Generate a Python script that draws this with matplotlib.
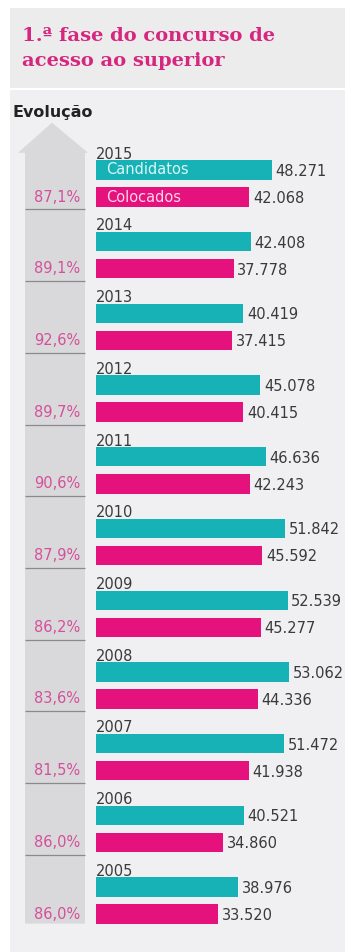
import matplotlib
matplotlib.use("Agg")
import matplotlib.pyplot as plt
import matplotlib.transforms as mtransforms
from matplotlib.patches import Rectangle, Polygon

# data
years = [2015, 2014, 2013, 2012, 2011, 2010, 2009, 2008, 2007, 2006, 2005]
candidatos = [48271, 42408, 40419, 45078, 46636, 51842, 52539, 53062, 51472, 40521, 38976]
colocados = [42068, 37778, 37415, 40415, 42243, 45592, 45277, 44336, 41938, 34860, 33520]
pct_labels = ["87,1%", "89,1%", "92,6%", "89,7%", "90,6%", "87,9%",
              "86,2%", "83,6%", "81,5%", "86,0%", "86,0%"]

TEAL = "#17b2b5"
PINK = "#e5117d"
PCT_PINK = "#d4509a"
TITLE_PINK = "#d6277f"
TXT = "#3a3a3a"

W, H = 345, 952
fig = plt.figure(figsize=(W / 100, H / 100), dpi=100, facecolor="white")

# panel backgrounds (title band + body), white rule in between
fig.patches.append(Rectangle((10 / W, 1 - 88 / H), 1, 80 / H, transform=fig.transFigure,
                             facecolor="#ececed", edgecolor="none", zorder=-2))
fig.patches.append(Rectangle((10 / W, 0), 1, 1 - 90 / H, transform=fig.transFigure,
                             facecolor="#f0f0f2", edgecolor="none", zorder=-2))

fig.text(22 / W, 1 - 36 / H, "1.ª fase do concurso de", color=TITLE_PINK,
         family="DejaVu Serif", weight="bold", fontsize=14, va="center", ha="left")
fig.text(22 / W, 1 - 61 / H, "acesso ao superior", color=TITLE_PINK,
         family="DejaVu Serif", weight="bold", fontsize=14, va="center", ha="left")
fig.text(13 / W, 1 - 113 / H, "Evolução", color="#222222", fontsize=11.5,
         va="center", ha="left", weight="bold")

ax = fig.add_axes([0, 0, 1, 1])
ax.set_zorder(1)
ax.set_facecolor("none")
px_per_unit = 176 / 48271          # bar scale in pixels
row_px = 71.7                      # pixels per year block
ax.set_xlim(-96 / px_per_unit, (W - 96) / px_per_unit)
ax.set_ylim((H - 170) / row_px, -170 / row_px)
ax.axis("off")

n = len(years)
rows = list(range(n))
off = 0.377
bh = 0.27

# grey arrow behind the percentages
bt = mtransforms.blended_transform_factory(ax.transAxes, ax.transData)
arrow = Polygon([(52 / W, -0.66), (88 / W, -0.24), (85 / W, -0.24), (85 / W, n - 1 + 0.51),
                 (25 / W, n - 1 + 0.51), (25 / W, -0.24), (18 / W, -0.24)],
                closed=True, transform=bt, facecolor="#d9d9db", edgecolor="none", zorder=1)
ax.add_patch(arrow)
ax.hlines([r + 0.55 for r in rows[:-1]], 25 / W, 85 / W, transform=bt,
          color="#8a8a8c", lw=0.9, zorder=2)

ax.barh(rows, candidatos, height=bh, color=TEAL, zorder=3)
ax.barh([r + off for r in rows], colocados, height=bh, color=PINK, zorder=3)

fs = 10.5
for r, y, c, k, p in zip(rows, years, candidatos, colocados, pct_labels):
    ax.text(0, r - 0.22, str(y), color=TXT, fontsize=fs, va="center", ha="left")
    ax.text(c + 1000, r + 0.02, f"{c:,}".replace(",", "."), color=TXT, fontsize=fs,
            va="center", ha="left")
    ax.text(k + 1000, r + off + 0.02, f"{k:,}".replace(",", "."), color=TXT, fontsize=fs,
            va="center", ha="left")
    ax.text(80 / W, r + off, p, transform=bt, color=PCT_PINK, fontsize=fs,
            va="center", ha="right")

ax.text(2800, 0, "Candidatos", color="#d9f7f7", fontsize=fs, va="center", ha="left", zorder=4)
ax.text(2800, off, "Colocados", color="#fbd6e8", fontsize=fs, va="center", ha="left", zorder=4)

fig.savefig("out.png", dpi=100, facecolor="white")
